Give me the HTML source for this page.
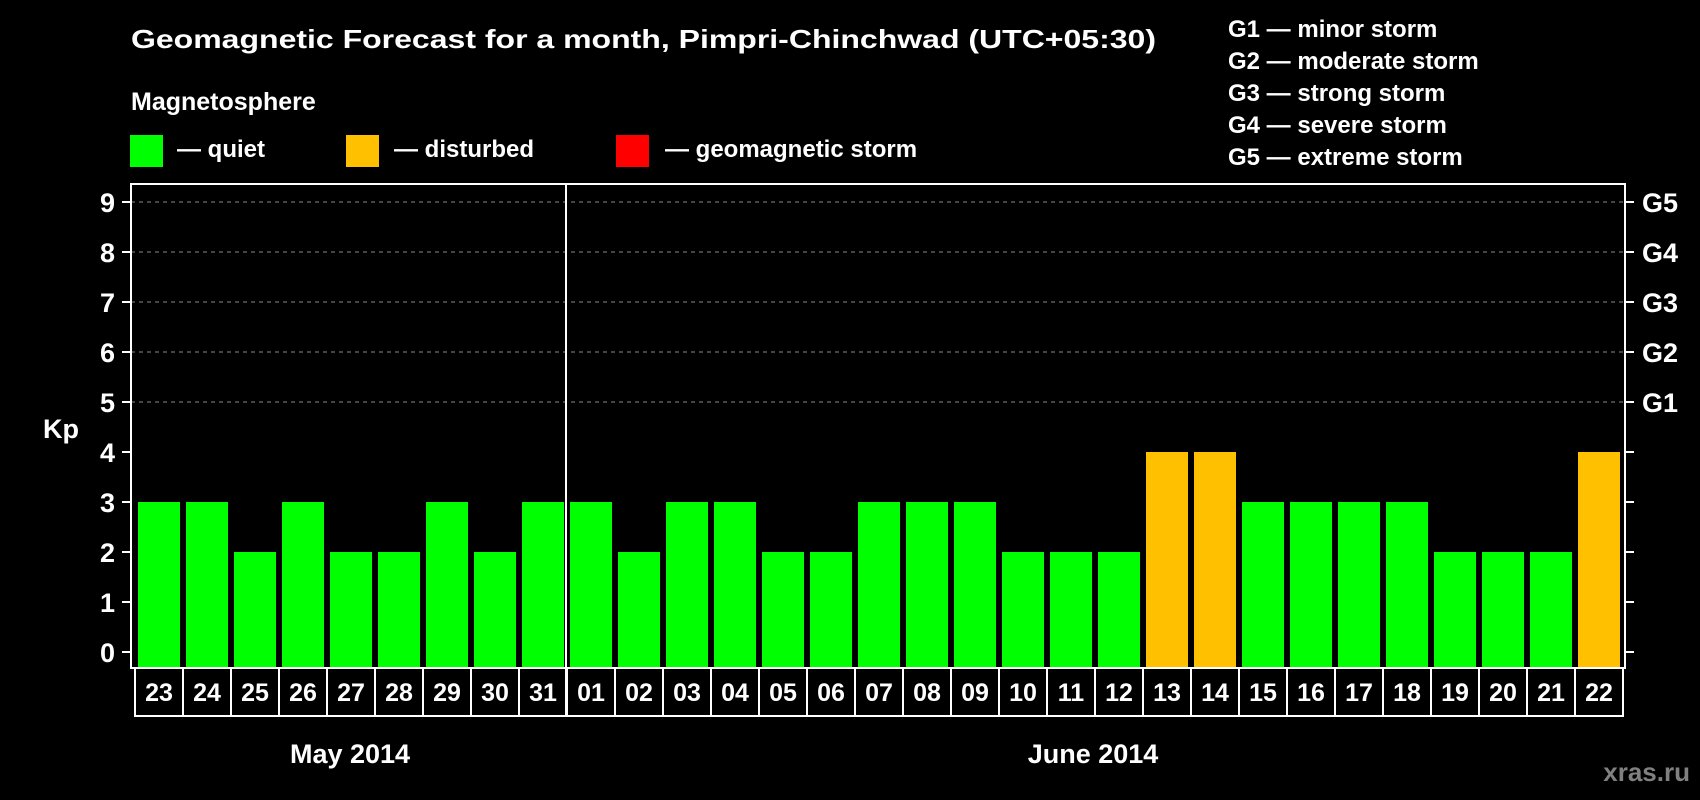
<!DOCTYPE html>
<html><head><meta charset="utf-8"><style>
html,body{margin:0;padding:0;background:#000;}
svg{display:block;font-family:"Liberation Sans",Arial,sans-serif;font-weight:bold;}
</style></head><body>
<svg id="chart" width="1700" height="800" viewBox="0 0 1700 800">
<rect x="0" y="0" width="1700" height="800" fill="#000"/>
<text x="131" y="48" fill="#fff" font-size="26" textLength="1025" lengthAdjust="spacingAndGlyphs">Geomagnetic Forecast for a month, Pimpri-Chinchwad (UTC+05:30)</text>
<text x="131" y="110" fill="#fff" font-size="25">Magnetosphere</text>
<g>
<rect x="130" y="135" width="33" height="32" fill="#00ff00"/>
<text x="177" y="157" fill="#fff" font-size="24">— quiet</text>
<rect x="346" y="135" width="33" height="32" fill="#ffc000"/>
<text x="394" y="157" fill="#fff" font-size="24">— disturbed</text>
<rect x="616" y="135" width="33" height="32" fill="#ff0000"/>
<text x="665" y="157" fill="#fff" font-size="24">— geomagnetic storm</text>
</g>
<g fill="#fff" font-size="24">
<text x="1228" y="37">G1 — minor storm</text>
<text x="1228" y="69">G2 — moderate storm</text>
<text x="1228" y="101">G3 — strong storm</text>
<text x="1228" y="133">G4 — severe storm</text>
<text x="1228" y="165">G5 — extreme storm</text>
</g>
<text x="43" y="438" fill="#fff" font-size="27">Kp</text>
<text x="350" y="763" fill="#fff" font-size="27" text-anchor="middle">May 2014</text>
<text x="1093" y="763" fill="#fff" font-size="27" text-anchor="middle">June 2014</text>
<text x="1690" y="781" fill="#808080" font-size="26" text-anchor="end">xras.ru</text>
<g id="grid"></g><g id="bars"></g><g id="axes"></g>
</svg>
<script>
const days = ["23","24","25","26","27","28","29","30","31","01","02","03","04","05","06","07","08","09","10","11","12","13","14","15","16","17","18","19","20","21","22"];
const kpValues = [3,3,2,3,2,2,3,2,3,3,2,3,3,2,2,3,3,3,2,2,2,4,4,3,3,3,3,2,2,2,4];
const yTicks = [0,1,2,3,4,5,6,7,8,9];
const gLabels = ["G1","G2","G3","G4","G5"];
const gLevels = [5,6,7,8,9];
const NS="http://www.w3.org/2000/svg";
const X0=135, STEP=48, TOP=184, BOT=668, LEFT=131, RIGHT=1625;
function y(v){return 652-50*v;}
function xCell(i){return X0+STEP*i;}
function mk(t,a,p){const e=document.createElementNS(NS,t);for(const k in a)e.setAttribute(k,a[k]);p.appendChild(e);return e;}
const grid=document.getElementById('grid'),bars=document.getElementById('bars'),axes=document.getElementById('axes');
gLevels.forEach(v=>{
 const l=mk('line',{x1:LEFT,x2:RIGHT,y1:y(v),y2:y(v),stroke:'#888','stroke-dasharray':'4,4','stroke-width':1},grid);
 
 
});
kpValues.forEach((v,i)=>{
 const c=v>=5?'#ff0000':(v>=4?'#ffc000':'#00ff00');
 const r=mk('rect',{x:xCell(i)+3,y:y(v),width:42,height:BOT-y(v),fill:c},bars);
 
 
});
mk('rect',{x:LEFT,y:TOP,width:RIGHT-LEFT,height:BOT-TOP,fill:'none',stroke:'#fff','stroke-width':2},axes);
const sep=mk('line',{x1:xCell(9)-1,x2:xCell(9)-1,y1:TOP,y2:716,stroke:'#fff','stroke-width':2},axes);


yTicks.forEach(v=>{
 mk('line',{x1:LEFT-9,x2:LEFT,y1:y(v),y2:y(v),stroke:'#fff','stroke-width':2},axes);
 mk('line',{x1:RIGHT,x2:RIGHT+9,y1:y(v),y2:y(v),stroke:'#fff','stroke-width':2},axes);
 const t=mk('text',{x:115,y:y(v)+10,fill:'#fff','font-size':27,'text-anchor':'end'},axes);
 t.textContent=v;
 
 
});
gLabels.forEach((g,i)=>{
 const t=mk('text',{x:1642,y:y(gLevels[i])+10,fill:'#fff','font-size':27},axes);
 t.textContent=g;
 
 
});
days.forEach((d,i)=>{
 const r=mk('rect',{x:xCell(i),y:BOT,width:STEP,height:48,fill:'none',stroke:'#fff','stroke-width':2},axes);
 
 
 const t=mk('text',{x:xCell(i)+STEP/2,y:701,fill:'#fff','font-size':25,'text-anchor':'middle'},axes);
 t.textContent=d;
 
 
});
</script>
</body></html>
